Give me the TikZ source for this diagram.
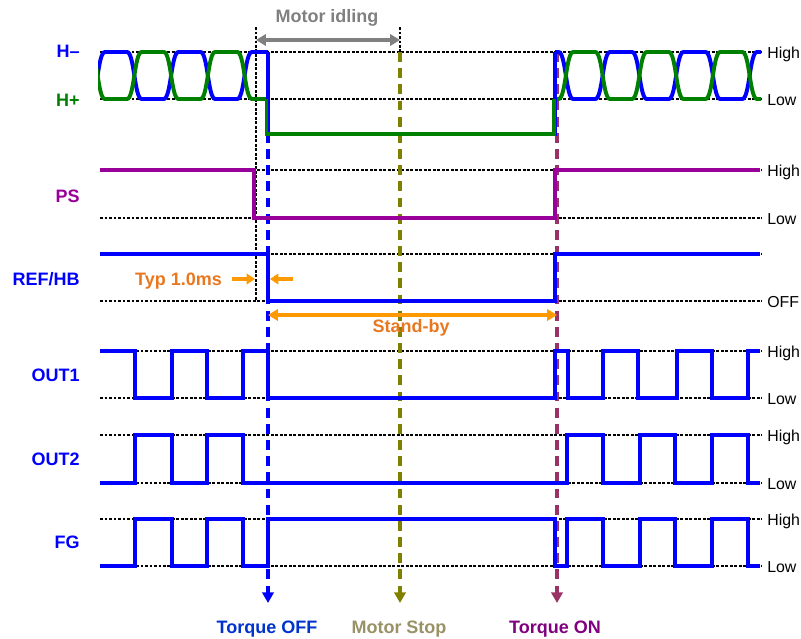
\documentclass[tikz,border=0pt]{standalone}
\usepackage{fontspec}
\setmainfont{Liberation Sans}
\usepackage{xcolor}
\usetikzlibrary{arrows.meta}

\definecolor{sigblue}{RGB}{0,0,255}
\definecolor{siggreen}{RGB}{0,128,0}
\definecolor{sigpurple}{RGB}{153,0,153}
\definecolor{offtext}{RGB}{0,51,204}
\definecolor{stopolive}{RGB}{128,128,0}
\definecolor{stoptext}{RGB}{153,146,102}
\definecolor{onmaroon}{RGB}{153,51,102}
\definecolor{ontext}{RGB}{128,0,128}
\definecolor{idlegray}{RGB}{128,128,128}
\definecolor{typorange}{RGB}{255,153,0}
\definecolor{typtext}{RGB}{232,120,32}

\begin{document}
\begin{tikzpicture}[
    x=0.025cm, y=-0.025cm,
    sig/.style={line width=2.8pt},
    gridline/.style={black, line width=0.8pt, dash pattern=on 1.8pt off 1.4pt},
    evline/.style={line width=2.8pt, dash pattern=on 7pt off 4.5pt, -{Triangle[length=7.5pt, width=8pt]}},
    signame/.style={anchor=base east, inner sep=0pt, font=\fontsize{12.8}{15}\selectfont\bfseries},
    lvltext/.style={anchor=base west, inner sep=0pt, font=\fontsize{11.3}{13}\selectfont},
    evtext/.style={anchor=base, inner sep=0pt, font=\fontsize{12.8}{15}\selectfont\bfseries},
    spanarrow/.style={line width=2.8pt, {Triangle[length=7pt, width=8pt]}-{Triangle[length=7pt, width=8pt]}},
]
\useasboundingbox (0,0) rectangle (801,638);

% level grid
\foreach \y in {52,99,170,218,254,301,351,398,435,483,519,566}
    \draw[gridline] (100,\y) -- (762,\y);
\draw[gridline] (256,27) -- (256,301);
\draw[gridline] (400,27) -- (400,52);

% signal names
\node[signame, sigblue] (hminus) at (80,57.5) {H--};
\node[signame, siggreen] (hplus) at (80,106) {H+};
\node[signame, sigpurple] (ps) at (80,202) {PS};
\node[signame, sigblue] (refhb) at (80,285) {REF/HB};
\node[signame, sigblue] (out1) at (80,381) {OUT1};
\node[signame, sigblue] (out2) at (80,465) {OUT2};
\node[signame, sigblue] (fg) at (80,548) {FG};

% levels
\foreach \y in {52,170,351,435,519}
    \node[lvltext] at (767,\y+6) {High};
\foreach \y in {99,218,398,483,566}
    \node[lvltext] at (767,\y+6) {Low};
\node[lvltext] (offlvl) at (767,307) {OFF};

% events
\coordinate (offtop) at (268,52);
\coordinate (offend) at (268,603);
\coordinate (stoptop) at (400,52);
\coordinate (stopend) at (400,603);
\coordinate (ontop) at (557,52);
\coordinate (onend) at (557,603);
\draw[evline, sigblue] (offtop) -- (offend);
\draw[evline, stopolive] (stoptop) -- (stopend);
\draw[evline, onmaroon] (ontop) -- (onend);
\node[evtext, offtext] (torqueoff) at (267,633) {Torque OFF};
\node[evtext, stoptext] (motorstop) at (399,633) {Motor Stop};
\node[evtext, ontext] (torqueon) at (555,633) {Torque ON};

% H- / H+
\begin{scope}
    \clip (98,0) rectangle (268,140);
    \draw[sig, sigblue] (68.25,99) \foreach \i in {0,...,5} {
        -- ({90.25+36.75*\i}, {75.5+23.5*cos(180*\i)})
        .. controls ({97.6+36.75*\i}, {75.5+23.5*cos(180*\i)}) and ({97.6+36.75*\i}, {75.5-23.5*cos(180*\i)})
        .. ({105+36.75*\i}, {75.5-23.5*cos(180*\i)})};
    \draw[sig, siggreen] (68.25,52) \foreach \i in {0,...,5} {
        -- ({90.25+36.75*\i}, {75.5-23.5*cos(180*\i)})
        .. controls ({97.6+36.75*\i}, {75.5-23.5*cos(180*\i)}) and ({97.6+36.75*\i}, {75.5+23.5*cos(180*\i)})
        .. ({105+36.75*\i}, {75.5+23.5*cos(180*\i)})};
\end{scope}
\begin{scope}
    \clip (555,0) rectangle (761,140);
    \draw[sig, sigblue] (536.5,52) \foreach \i in {0,...,6} {
        -- ({558.5+36.75*\i}, {75.5-23.5*cos(180*\i)})
        .. controls ({565.9+36.75*\i}, {75.5-23.5*cos(180*\i)}) and ({565.9+36.75*\i}, {75.5+23.5*cos(180*\i)})
        .. ({573.25+36.75*\i}, {75.5+23.5*cos(180*\i)})};
    \draw[sig, siggreen] (536.5,99) \foreach \i in {0,...,6} {
        -- ({558.5+36.75*\i}, {75.5+23.5*cos(180*\i)})
        .. controls ({565.9+36.75*\i}, {75.5+23.5*cos(180*\i)}) and ({565.9+36.75*\i}, {75.5-23.5*cos(180*\i)})
        .. ({573.25+36.75*\i}, {75.5-23.5*cos(180*\i)})};
\end{scope}
\draw[sig, sigblue] (268,52) -- (268,134) -- (555,134) -- (555,52);
\draw[sig, siggreen] (266.5,99) -- (266.5,134) -- (554,134) -- (554,99);

% PS, REF/HB
\draw[sig, sigpurple] (100,170) -| (254,218) -| (555,170) -- (760,170);
\draw[sig, sigblue] (100,254) -| (268,301) -| (555,254) -- (760,254);

% OUT1, OUT2, FG
\draw[sig, sigblue] (100,351) -| (135,398) -| (172,351) -| (207,398) -| (243,351) -| (268,398)
    -| (555,351) -| (568,398) -| (603,351) -| (638,398) -| (677,351) -| (712,398) -| (748,351) -- (760,351);
\draw[sig, sigblue] (100,483) -| (135,435) -| (172,483) -| (207,435) -| (243,483)
    -| (567,435) -| (603,483) -| (640,435) -| (675,483) -| (712,435) -| (748,483) -- (760,483);
\draw[sig, sigblue] (100,566) -| (135,519) -| (172,566) -| (207,519) -| (243,566) -| (268,519)
    -| (555,566) -| (567,519) -| (603,566) -| (640,519) -| (675,566) -| (712,519) -| (748,566) -- (760,566);

% motor idling
\coordinate (idlestart) at (256,40);
\coordinate (idleend) at (400,40);
\draw[spanarrow, idlegray] (idlestart) -- (idleend);
\node[evtext, idlegray] (idling) at (327,22.5) {Motor idling};

% stand-by and delay
\coordinate (sbstart) at (268,315);
\coordinate (sbend) at (557,315);
\draw[spanarrow, typorange] (sbstart) -- (sbend);
\node[evtext, typtext] (standby) at (411,332) {Stand-by};
\node[evtext, typtext] (typ) at (178.5,285) {Typ 1.0ms};
\coordinate (typa) at (232,279);
\coordinate (typb) at (255,279);
\coordinate (typc) at (293,279);
\coordinate (typd) at (270,279);
\draw[line width=2.8pt, typorange, -{Triangle[length=6pt, width=7.5pt]}] (typa) -- (typb);
\draw[line width=2.8pt, typorange, -{Triangle[length=6pt, width=7.5pt]}] (typc) -- (typd);

\end{tikzpicture}
\end{document}
